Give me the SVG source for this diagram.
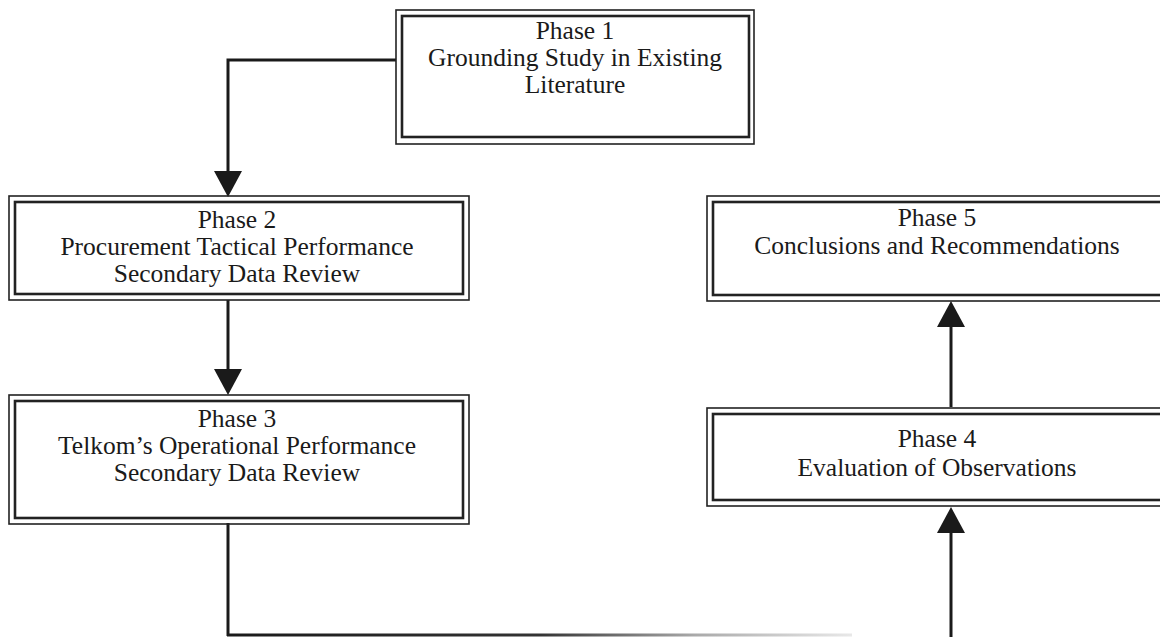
<svg xmlns="http://www.w3.org/2000/svg" width="1160" height="637" viewBox="0 0 1160 637">
  <style>
    .outer { fill: none; stroke: #222; stroke-width: 1.6; }
    .inner { fill: none; stroke: #222; stroke-width: 2.6; }
    .label { font-family: "Liberation Serif", "Times New Roman", serif; font-size: 25.5px; fill: #1a1a1a; text-anchor: middle; }
    .wire { fill: none; stroke: #1a1a1a; stroke-width: 3; }
    .head { fill: #1a1a1a; }
  </style>
  <defs>
    <linearGradient id="fade" gradientUnits="userSpaceOnUse" x1="227" y1="0" x2="852" y2="0">
      <stop offset="0" stop-color="#1a1a1a"/>
      <stop offset="0.5" stop-color="#333"/>
      <stop offset="0.75" stop-color="#aaa"/>
      <stop offset="1" stop-color="#e8e8e8"/>
    </linearGradient>
  </defs>
  <rect width="1160" height="637" fill="#fff"/>

  <!-- connectors -->
  <g id="connectors">
    <polyline class="wire" points="396,60 228,60 228,173"/>
    <polygon class="head" points="214,171 242,171 228,197"/>
    <line class="wire" x1="228" y1="300" x2="228" y2="371"/>
    <polygon class="head" points="214,369 242,369 228,395"/>
    <line class="wire" x1="228" y1="523" x2="228" y2="636"/>
    <line x1="227" y1="635" x2="852" y2="635" stroke="url(#fade)" stroke-width="3"/>
    <line class="wire" x1="951" y1="637" x2="951" y2="530"/>
    <polygon class="head" points="937,533 965,533 951,507"/>
    <line class="wire" x1="951" y1="407" x2="951" y2="324"/>
    <polygon class="head" points="937,327 965,327 951,301"/>
  </g>

  <!-- Phase 1 -->
  <g id="phase1">
    <rect class="outer" x="396" y="10" width="358" height="134"/>
    <rect class="inner" x="402" y="16" width="347" height="121"/>
    <text class="label" x="575" y="39">Phase 1</text>
    <text class="label" x="575" y="66">Grounding Study in Existing</text>
    <text class="label" x="575" y="93">Literature</text>
  </g>

  <!-- Phase 2 -->
  <g id="phase2">
    <rect class="outer" x="9" y="196" width="460" height="104"/>
    <rect class="inner" x="15" y="202" width="448" height="92"/>
    <text class="label" x="237" y="228">Phase 2</text>
    <text class="label" x="237" y="255">Procurement Tactical Performance</text>
    <text class="label" x="237" y="282">Secondary Data Review</text>
  </g>

  <!-- Phase 3 -->
  <g id="phase3">
    <rect class="outer" x="9" y="395" width="460" height="129"/>
    <rect class="inner" x="15" y="401" width="448" height="117"/>
    <text class="label" x="237" y="427">Phase 3</text>
    <text class="label" x="237" y="454">Telkom’s Operational Performance</text>
    <text class="label" x="237" y="481">Secondary Data Review</text>
  </g>

  <!-- Phase 5 -->
  <g id="phase5">
    <rect class="outer" x="707" y="196" width="470" height="105"/>
    <rect class="inner" x="713" y="202" width="460" height="93"/>
    <text class="label" x="937" y="226">Phase 5</text>
    <text class="label" x="937" y="254">Conclusions and Recommendations</text>
  </g>

  <!-- Phase 4 -->
  <g id="phase4">
    <rect class="outer" x="707" y="408" width="470" height="98"/>
    <rect class="inner" x="713" y="414" width="460" height="86"/>
    <text class="label" x="937" y="447">Phase 4</text>
    <text class="label" x="937" y="476">Evaluation of Observations</text>
  </g>
</svg>
